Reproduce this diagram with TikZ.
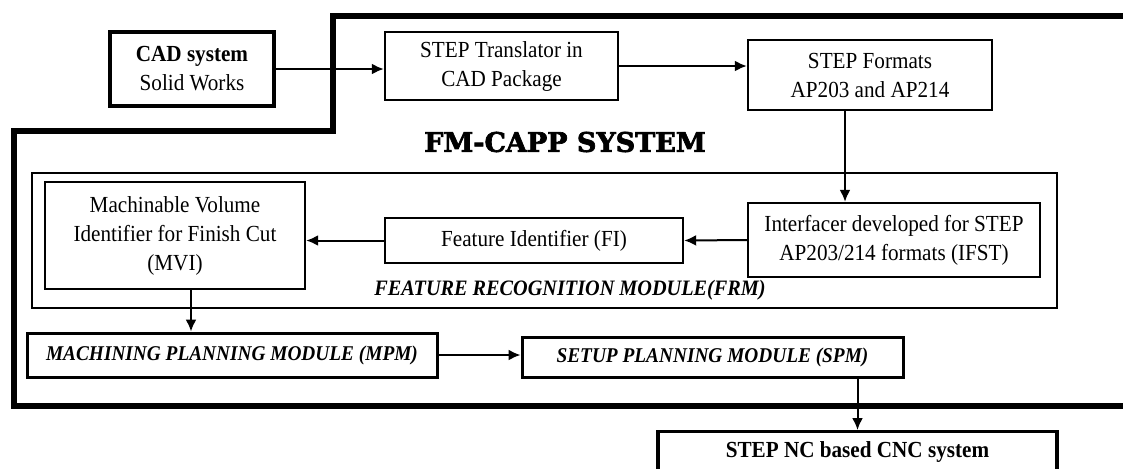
\documentclass[tikz,border=0pt]{standalone}
\usepackage{fontspec}
\setmainfont{Liberation Serif}[FakeStretch=0.92]
\newfontfamily\headfont{DejaVu Serif}[BoldFont={DejaVu Serif Bold}, BoldFeatures={FakeBold=2.5}]
\usetikzlibrary{arrows.meta}

\tikzset{
  box/.style={draw, line width=1.2pt, align=center, inner sep=2pt, font=\fontsize{11.5}{14.5}\selectfont},
  modbox/.style={draw, line width=1.5pt, inner sep=2pt, font=\fontsize{10.5}{13}\selectfont\bfseries\itshape},
  pfeil/.style={-{Latex[length=6pt,width=5.5pt]}, line width=1pt},
  rahmen/.style={line width=3pt, line join=miter},
}

\begin{document}
\begin{tikzpicture}[x=0.5pt, y=-0.5pt]
            \clip (0,0) rectangle (1123,468);
            % dicker Rahmen des Systems
            \draw[rahmen] (1130,16) -- (333,16) -- (333,131) -- (14,131) -- (14,406) -- (1130,406);
            
            % obere Reihe
            \node[box, line width=1.7pt, minimum width=82pt, minimum height=37pt] (cad) at (192,69) {\textbf{CAD system}\\Solid Works};
            \node[box, minimum width=116.5pt, minimum height=34pt] (trans) at (501.5,66) {STEP Translator in\\CAD Package};
            \node[box, minimum width=122pt, minimum height=35pt] (formats) at (870,75) {STEP Formats\\AP203 and AP214};
            \node[font=\headfont\bfseries\fontsize{13.5}{16}\selectfont] (title) at (565,142) {FM-CAPP SYSTEM};
            
            % Feature-Erkennung
            \node[draw, line width=1.4pt, minimum width=512.5pt, minimum height=67.5pt] (frm) at (544.5,240.5) {};
            \node[box, minimum width=130pt, minimum height=53.5pt] (mvi) at (175,235.5) {Machinable Volume\\Identifier for Finish Cut\\(MVI)};
            \node[box, minimum width=149pt, minimum height=22.5pt] (fi) at (534,240.5) {Feature Identifier (FI)};
            \node[box, minimum width=146pt, minimum height=37pt] (ifst) at (894,240) {Interfacer developed for STEP\\AP203/214 formats (IFST)};
            \node[font=\fontsize{11}{13}\selectfont\bfseries\itshape] (frmlabel) at (570,290) {FEATURE RECOGNITION MODULE(FRM)};
            
            % Planungsmodule
            \node[modbox, minimum width=205pt, minimum height=22pt] (mpm) at (232,355) {MACHINING PLANNING MODULE (MPM)};
            \node[modbox, minimum width=190.5pt, minimum height=20pt] (spm) at (712.5,357) {SETUP PLANNING MODULE (SPM)};
            \node[box, line width=1.7pt, minimum width=199.5pt, minimum height=40pt, anchor=north] (cnc) at (857.5,430) {};
            \node[font=\fontsize{11.5}{14}\selectfont\bfseries] (cnclabel) at (857.5,452) {STEP NC based CNC system};
            
            % Pfeile
            \draw[pfeil] (cad.east) -- (cad.east -| trans.west);
            \draw[pfeil] (trans.east) -- (trans.east -| formats.west);
            \draw[pfeil] ([xshift=-12.5pt]formats.south) -- ([xshift=-12.5pt]formats.south |- ifst.north);
            \draw[pfeil] (ifst.west) -- (fi.east);
            \draw[pfeil] (fi.west) -- (fi.west -| mvi.east);
            \draw[pfeil] ([xshift=8pt]mvi.south) -- ([xshift=8pt]mvi.south |- mpm.north);
            \draw[pfeil] (mpm.east) -- (mpm.east -| spm.west);
            \draw[pfeil] (spm.south -| cnc.north) -- (cnc.north);
\end{tikzpicture}
\end{document}
